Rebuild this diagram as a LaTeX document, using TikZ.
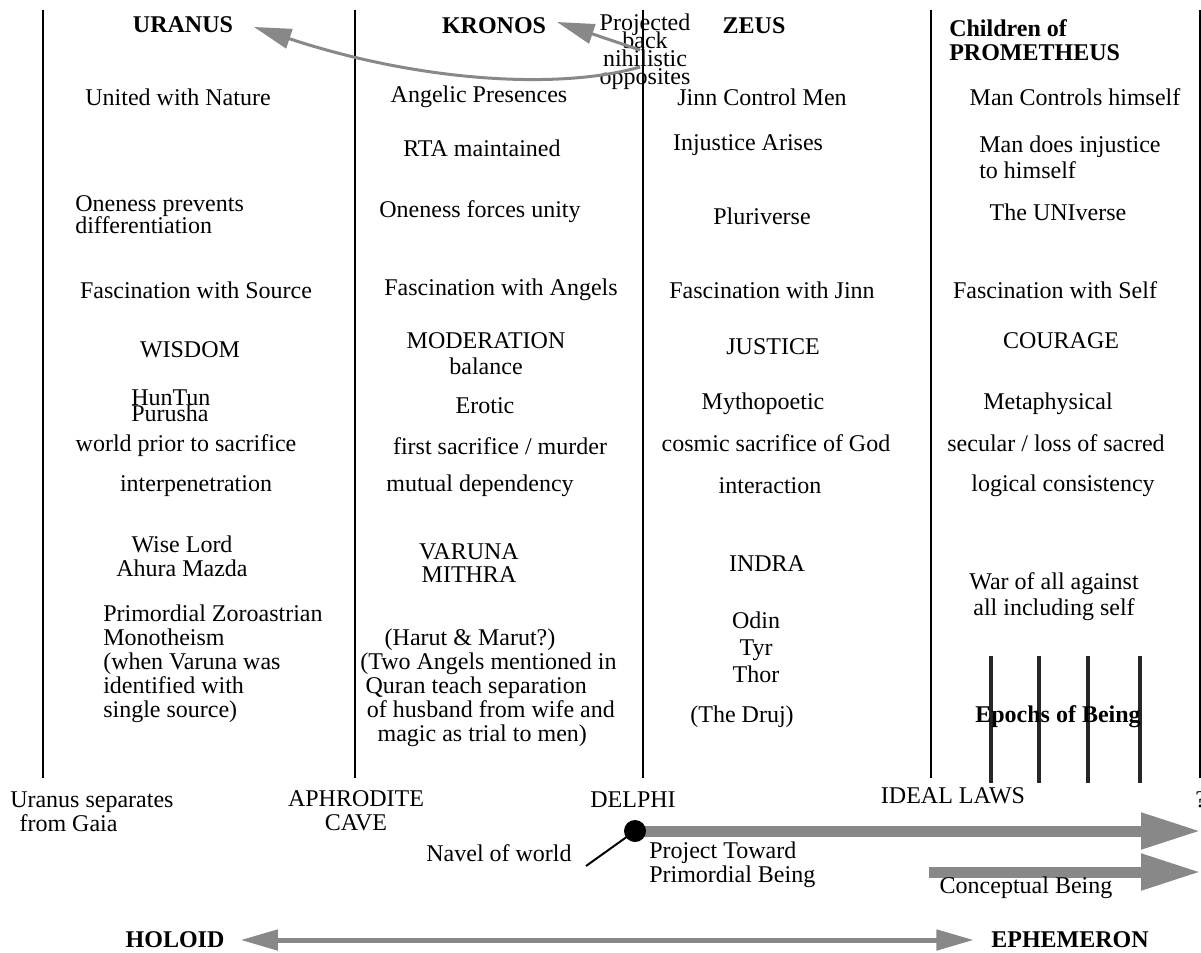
\documentclass[tikz,border=0pt]{standalone}
\usepackage{fontspec}
\setmainfont{Liberation Serif}
\usetikzlibrary{arrows.meta}
\definecolor{arrowgray}{RGB}{136,136,136}
\newcommand\tightlines{\lineskiplimit=-20pt\relax}
\begin{document}
\begin{tikzpicture}[x=0.75pt,y=-0.75pt,
  txt/.style={inner sep=0pt,font=\fontsize{18}{18}\selectfont,align=center},
  ltxt/.style={txt,align=left},
  btxt/.style={txt,font=\fontsize{18}{18}\selectfont\bfseries},
  colline/.style={line width=1.5pt},
  epochline/.style={line width=2.3pt,draw=black!85},
  bigarrow/.style={draw=arrowgray,line width=8.25pt,-{Triangle[length=45pt,width=25.5pt]}},
  thinarrow/.style={draw=arrowgray,line width=2.25pt,-{Triangle[length=28pt,width=15pt]}},
  midarrow/.style={draw=arrowgray,line width=3.75pt,{Triangle[length=28pt,width=15pt]}-{Triangle[length=28pt,width=15pt]}}
]
\useasboundingbox (0,0) rectangle (1201,952);

% column lines
\foreach \x/\n in {43/a,355/b,643/c,931/d,1200/e}{
  \coordinate (top\n) at (\x,10);
  \coordinate (bot\n) at (\x,778);
  \draw[colline] (top\n) -- (bot\n);
}
% epoch lines
\foreach \x/\n in {991/a,1039/b,1088/c,1140/d}{
  \coordinate (etop\n) at (\x,656);
  \coordinate (ebot\n) at (\x,783);
  \draw[epochline] (etop\n) -- (ebot\n);
}

% column 1
\node[btxt] (uranus) at (183,25) {URANUS};
\node[txt] (c1r1) at (178,97) {United with Nature};
\node[ltxt,font=\fontsize{18}{16.5}\selectfont\tightlines,anchor=west] (c1r3) at (75,215) {Oneness prevents\\differentiation};
\node[txt] (c1r4) at (196,290) {Fascination with Source};
\node[txt] (c1r5) at (190,350) {WISDOM};
\node[ltxt,font=\fontsize{18}{12}\selectfont\tightlines,anchor=west] (c1r6) at (131,406) {HunTun\\Purusha};
\node[txt] (c1r7) at (186,446) {world prior to sacrifice};
\node[txt] (c1r8) at (196,486) {interpenetration};
\node[txt] (c1r9) at (182,556) {Wise Lord\\Ahura Mazda};
\node[ltxt,anchor=west] (c1r10) at (103,664) {Primordial Zoroastrian\\Monotheism\\(when Varuna was\\identified with\\single source)};
\node[ltxt,anchor=west] (c1b) at (10,812) {Uranus separates\\\hspace*{7pt}from Gaia};

% column 2
\node[btxt] (kronos) at (494,26) {KRONOS};
\node[txt] (c2r1) at (479,97) {Angelic Presences};
\node[txt] (c2r2) at (482,148) {RTA maintained};
\node[txt] (c2r3) at (480,212) {Oneness forces unity};
\node[txt] (c2r4) at (501,290) {Fascination with Angels};
\node[txt,font=\fontsize{18}{19.5}\selectfont] (c2r5) at (486,354) {MODERATION\\balance};
\node[txt] (c2r6) at (485,406) {Erotic};
\node[txt] (c2r7) at (500,446) {first sacrifice / murder};
\node[txt] (c2r8) at (480,486) {mutual dependency};
\node[txt,font=\fontsize{18}{17.25}\selectfont] (c2r9) at (469,563) {VARUNA\\MITHRA};
\node[txt] (c2r10) at (470,640) {(Harut \& Marut?)};
\node[ltxt,anchor=west] (c2r11) at (360,700) {(Two Angels mentioned in\\\hspace*{4pt}Quran teach separation\\\hspace*{5pt}of husband from wife and\\\hspace*{13pt}magic as trial to men)};
\node[txt] (c2b) at (356,811) {APHRODITE\\CAVE};

% column 3
\node[btxt] (zeus) at (754,26) {ZEUS};
\node[txt] (c3r1) at (762,97) {Jinn Control Men};
\node[txt] (c3r2) at (748,145) {Injustice Arises};
\node[txt] (c3r3) at (762,216) {Pluriverse};
\node[txt] (c3r4) at (772,290) {Fascination with Jinn};
\node[txt] (c3r5) at (773,347) {JUSTICE};
\node[txt] (c3r6) at (763,404) {Mythopoetic};
\node[txt] (c3r7) at (776,443) {cosmic sacrifice of God};
\node[txt] (c3r8) at (770,486) {interaction};
\node[txt] (c3r9) at (767,564) {INDRA};
\node[txt,font=\fontsize{18}{20.25}\selectfont] (c3r10) at (756,647) {Odin\\Tyr\\Thor};
\node[txt] (c3r11) at (742,717) {(The Druj)};
\node[txt] (c3b) at (633,800) {DELPHI};

% column 4
\node[btxt,align=left,anchor=west] (prom) at (949,40) {Children of\\PROMETHEUS};
\node[txt] (c4r1) at (1075,97) {Man Controls himself};
\node[ltxt,font=\fontsize{18}{19.5}\selectfont,anchor=west] (c4r2) at (979,157) {Man does injustice\\to himself};
\node[txt] (c4r3) at (1058,212) {The UNIverse};
\node[txt] (c4r4) at (1055,290) {Fascination with Self};
\node[txt] (c4r5) at (1061,341) {COURAGE};
\node[txt] (c4r6) at (1048,404) {Metaphysical};
\node[txt] (c4r7) at (1056,443) {secular / loss of sacred};
\node[txt] (c4r8) at (1063,486) {logical consistency};
\node[txt,font=\fontsize{18}{19.5}\selectfont] (c4r9) at (1054,597) {War of all against\\all including self};
\node[btxt] (epochs) at (1058,717) {Epochs of Being};
\node[txt] (c4b) at (953,796) {IDEAL LAWS};
\node[txt,anchor=west] (qm) at (1195,800) {?};

% projected back
\node[txt,font=\fontsize{18}{13.5}\selectfont\tightlines] (proj) at (645,52) {Projected\\back\\nihilistic\\opposites};
\coordinate (kstart) at (640,50);
\coordinate (ktip) at (557,22);
\coordinate (ustart) at (640,67);
\coordinate (utip) at (254,27);
\draw[thinarrow] (kstart) -- (ktip);
\draw[thinarrow] (ustart) .. controls (560,90) and (420,82) .. (utip);

% bottom arrows
\coordinate (dot) at (635,831);
\coordinate (tip1) at (1201,831);
\coordinate (cstart) at (929,872);
\coordinate (tip2) at (1201,872);
\coordinate (navend) at (586,866);
\draw[bigarrow] (dot) -- (tip1);
\draw[bigarrow] (cstart) -- (tip2);
\draw[line width=1.5pt] (navend) -- (dot);
\node[circle,fill=black,inner sep=0pt,minimum size=16.5pt] (dotnode) at (dot) {};

\node[txt] (navel) at (499,853) {Navel of world};
\node[ltxt,anchor=west] (projtoward) at (649,865) {Project Toward\\Primordial Being};
\node[txt] (concept) at (1026,888) {Conceptual Being};

\node[btxt] (holoid) at (175,940) {HOLOID};
\node[btxt] (ephem) at (1070,940) {EPHEMERON};
\draw[midarrow] ([xshift=12pt]holoid.east) -- ([xshift=-13pt]ephem.west);
\end{tikzpicture}
\end{document}
